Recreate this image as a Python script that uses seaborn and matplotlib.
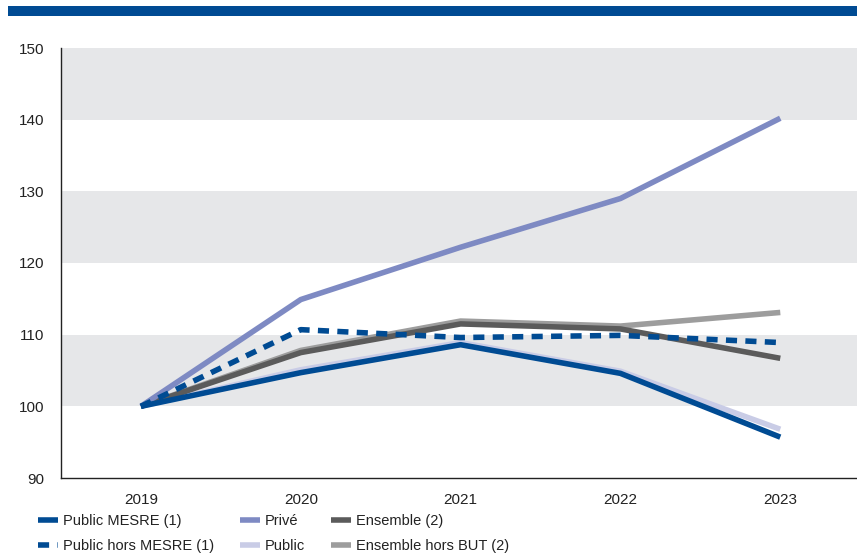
import matplotlib
matplotlib.use("Agg")
import matplotlib.pyplot as plt
import seaborn as sns
import pandas as pd
from matplotlib.patches import Rectangle

years = ["2019", "2020", "2021", "2022", "2023"]
public_mesre = [100, 104.7, 108.6, 104.6, 95.7]
public_hors_mesre = [100, 110.7, 109.6, 109.9, 108.9]
prive = [100, 114.9, 122.2, 129.0, 140.2]
public = [100, 105.1, 108.9, 104.9, 96.8]
ensemble = [100, 107.5, 111.5, 110.8, 106.7]
ensemble_hors_but = [100, 107.8, 111.9, 111.2, 113.1]

series = [
    ("Public", public, "#C9CCE6", "-", 1),
    ("Ensemble hors BUT (2)", ensemble_hors_but, "#9D9D9D", "-", 2),
    ("Ensemble (2)", ensemble, "#5B5B5B", "-", 3),
    ("Privé", prive, "#7E8AC3", "-", 4),
    ("Public MESRE (1)", public_mesre, "#004B93", "-", 5),
    ("Public hors MESRE (1)", public_hors_mesre, "#004B93", (0, (2, 1.5)), 6),
]

sns.set_theme(style="white")
plt.rcParams['font.family'] = ['Liberation Sans', 'DejaVu Sans']

fig = plt.figure(figsize=(8.57, 5.58), dpi=100)
ax = fig.add_axes([61/857, 80/558, 1 - 61/857, 430/558])

for lo in [100, 120, 140]:
    ax.axhspan(lo, lo + 10, color="#E6E7E9", zorder=0, lw=0)

handles = {}
for name, vals, col, ls, z in series:
    df = pd.DataFrame({"x": range(len(years)), "y": vals})
    sns.lineplot(data=df, x="x", y="y", ax=ax, color=col, lw=4,
                 linestyle=ls, zorder=z, solid_capstyle="butt", dash_capstyle="butt")
    handles[name] = ax.lines[-1]

ax.set_xlim(-0.5, 4.48)
ax.set_ylim(90, 150)
ax.set_yticks([90, 100, 110, 120, 130, 140, 150])
ax.tick_params(axis="y", length=0, labelsize=11, labelcolor="#222222", pad=12)
ax.set_xticks([-0.5, 0.5, 1.5, 2.5, 3.5])
ax.set_xticklabels([])
ax.tick_params(axis="x", which="major", length=7, width=1, color="#222222", direction="out")
ax.set_xticks(range(len(years)), minor=True)
ax.set_xticklabels(years, minor=True)
ax.tick_params(axis="x", which="minor", length=0, labelsize=11, labelcolor="#222222", pad=11)
ax.set_xlabel("")
ax.set_ylabel("")
for s in ["top", "right"]:
    ax.spines[s].set_visible(False)
for s in ["left", "bottom"]:
    ax.spines[s].set_color("#222222")
    ax.spines[s].set_linewidth(1)
ax.grid(False)

fig.patches.append(Rectangle((8/857, 1 - 16/558), 1, 10/558, transform=fig.transFigure,
                             color="#004B93", lw=0))

cols = [
    ["Public MESRE (1)", "Public hors MESRE (1)"],
    ["Privé", "Public"],
    ["Ensemble (2)", "Ensemble hors BUT (2)"],
]
renderer = fig.canvas.get_renderer()
x0 = 38
for names in cols:
    leg = fig.legend([handles[n] for n in names], names, loc="upper left",
                     bbox_to_anchor=(x0/857, 1 - 514/558), frameon=False,
                     handlelength=1.35, handletextpad=0.35, labelspacing=0.75,
                     prop={"size": 10.5}, borderaxespad=0, borderpad=0)
    for t in leg.get_texts():
        t.set_color("#222222")
    bb = leg.get_window_extent(renderer)
    x0 = bb.x1 + 26

fig.savefig("out.png", dpi=100)
